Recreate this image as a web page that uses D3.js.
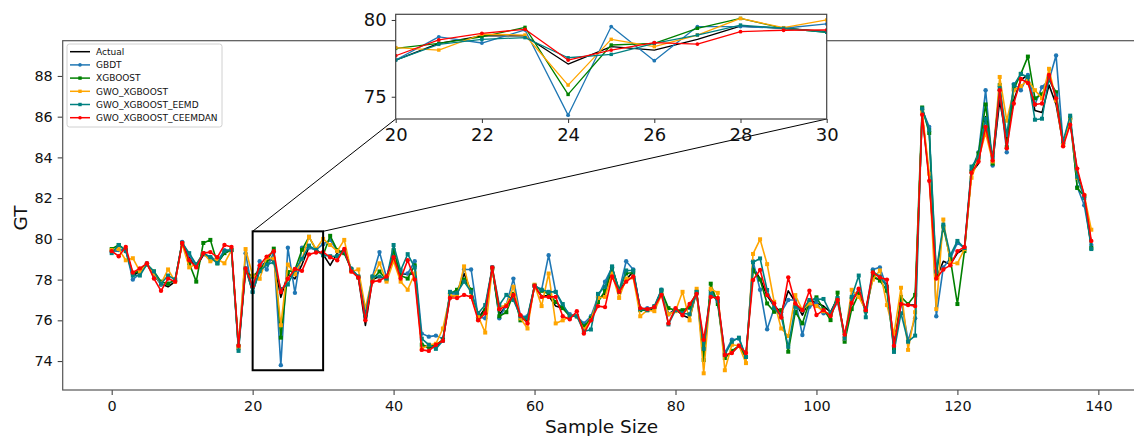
<!DOCTYPE html>
<html>
<head>
<meta charset="utf-8">
<script src="https://cdn.jsdelivr.net/npm/d3@7"></script>
<style>
  body { margin: 0; background: #fff; }
  text { font-family: 'DejaVu Sans', sans-serif; fill: #111; }
</style>
</head>
<body>
<div id="chart"></div>
<script>
// values
var actual = [
  79.45, 79.4, 79.5, 78.2, 78.4, 78.75, 78.2, 77.8, 77.65, 77.9,
  79.8, 79.1, 78.6, 79.2, 79.15, 78.85, 79.3, 79.45, 74.6, 78.6,
  77.39, 78.48, 78.96, 78.96, 77.13, 78.26, 78.04, 78.74, 79.6, 79.46,
  79.24, 78.7, 79.3, 79.45, 78.5, 78.1, 75.75, 78.0, 78.15, 78.0,
  79.2, 78.3, 78.25, 78.3, 74.8, 74.65, 74.75, 75.0, 77.15, 77.25,
  78.3, 77.4, 76.1, 76.6, 78.55, 76.3, 76.7, 77.3, 76.15, 75.95,
  77.65, 77.2, 77.2, 76.7, 76.6, 76.25, 76.25, 75.6, 76.05, 77.0,
  77.3, 78.55, 77.4, 78.0, 78.4, 76.55, 76.5, 76.6, 77.45, 76.3,
  76.55, 76.25, 76.1, 77.4, 74.4, 77.5, 76.9, 74.2, 74.4, 74.75,
  74.2, 78.6, 78.05, 77.2, 76.7, 76.4, 77.45, 76.9, 76.26, 77.0,
  76.85, 76.7, 76.4, 77.1, 75.2, 77.0, 77.4, 76.5, 78.1, 78.0,
  77.8, 74.85, 76.8, 76.75, 76.75, 86.1, 83.0, 78.05, 78.9, 78.75,
  79.3, 79.5, 83.25, 83.7, 86.0, 83.7, 86.8, 84.8, 86.8, 87.8,
  88.05, 86.3, 86.2, 87.55, 86.6, 84.65, 85.8, 83.3, 82.1, 79.75
]

var gbdt = [
  79.35, 79.45, 79.45, 78.0, 78.3, 78.8, 78.25, 77.75, 77.8, 77.95,
  79.85, 79.2, 78.65, 79.3, 79.1, 78.9, 79.45, 79.45, 74.6, 79.3,
  77.39, 78.9, 78.5, 79.35, 73.8, 79.57, 77.35, 79.57, 79.57, 79.46,
  79.74, 79.95, 79.4, 79.3, 78.55, 78.15, 76.3, 78.15, 79.35, 78.1,
  79.3, 78.3, 78.3, 78.9, 75.35, 75.2, 75.25, 75.1, 77.3, 77.3,
  78.5, 78.5, 76.15, 76.1, 78.6, 76.1, 76.75, 78.05, 76.2, 76.2,
  77.7, 77.5, 79.2, 77.4, 76.7, 76.3, 76.2, 75.85, 76.2, 77.15,
  77.9, 78.6, 77.45, 78.9, 78.5, 76.55, 76.6, 76.6, 77.5, 76.3,
  76.5, 76.4, 76.6, 77.3, 74.85, 77.45, 76.95, 74.4, 75.05, 75.1,
  74.2, 78.9, 77.5, 75.56, 76.59, 76.4, 77.0, 77.0, 75.28, 76.67,
  76.85, 76.35, 76.3, 76.9, 75.2, 77.1, 77.5, 76.45, 78.5, 78.6,
  77.6, 74.7, 77.0, 75.0, 76.1, 86.35, 85.5, 76.2, 78.6, 79.05,
  79.8, 79.55, 83.4, 84.25, 87.3, 83.6, 87.3, 84.25, 87.6, 87.3,
  88.05, 86.6, 87.45, 87.8, 89.0, 84.7, 85.9, 82.55, 81.65, 79.7
]

var xgboost = [
  79.5, 79.7, 79.45, 78.3, 78.45, 78.75, 78.4, 77.9, 77.8, 78.0,
  79.8, 78.8, 77.9, 79.8, 79.95, 78.8, 79.3, 79.45, 74.75, 78.4,
  78.15, 78.48, 78.9, 79.52, 75.15, 78.37, 78.48, 79.46, 80.1, 79.46,
  79.2, 80.15, 79.45, 79.3, 78.5, 78.1, 76.3, 78.0, 78.4, 78.0,
  79.45, 78.2, 78.05, 78.7, 74.8, 74.7, 74.8, 75.05, 77.3, 77.5,
  78.0, 77.5, 76.05, 76.5, 78.55, 76.2, 76.4, 77.3, 76.0, 76.1,
  77.7, 77.45, 77.3, 76.9, 76.6, 76.2, 76.2, 75.7, 76.1, 76.9,
  77.45, 78.6, 77.5, 78.3, 78.35, 76.5, 76.5, 76.65, 77.45, 76.6,
  76.5, 76.5, 76.65, 77.4, 74.05, 77.8, 76.8, 74.15, 74.5, 74.75,
  74.2, 78.45, 78.0, 76.83, 76.42, 76.5, 74.46, 76.42, 75.85, 76.9,
  77.13, 76.55, 76.01, 77.36, 74.95, 76.55, 77.3, 76.45, 78.2, 77.95,
  77.45, 74.6, 77.15, 76.8, 77.25, 86.45, 85.2, 78.2, 80.6, 79.0,
  76.8, 79.4, 83.3, 84.2, 86.6, 83.7, 87.55, 84.5, 87.35, 88.1,
  88.95, 86.9, 87.1, 87.8, 87.2, 84.7, 85.95, 82.5, 82.1, 79.55
]

var gwoXgboost = [
  79.45, 79.5, 78.95, 79.05, 78.4, 78.75, 78.3, 77.8, 78.5, 77.9,
  79.75, 78.6, 78.75, 79.3, 78.9, 79.0, 78.8, 79.45, 74.65, 79.5,
  78.2, 78.04, 79.07, 79.02, 75.76, 78.74, 78.26, 79.02, 80.1, 79.5,
  80.0, 79.7, 79.4, 79.95, 78.4, 78.5, 76.6, 78.1, 78.8, 77.9,
  78.9, 77.9, 77.5, 78.3, 74.6, 74.8, 74.85, 75.6, 77.2, 77.2,
  78.65, 77.15, 76.2, 75.4, 78.55, 76.65, 76.75, 77.65, 76.1, 75.6,
  77.75, 76.7, 78.3, 75.85, 76.0, 76.2, 76.2, 75.55, 76.0, 77.1,
  77.15, 78.3, 77.1, 78.05, 78.1, 76.2, 76.5, 76.45, 77.25, 76.3,
  76.45, 77.4, 76.0, 77.55, 73.4, 77.55, 77.35, 73.55, 74.8, 74.75,
  73.9, 79.26, 79.98, 78.76, 76.91, 75.6, 75.23, 77.24, 76.5, 76.83,
  76.7, 76.45, 76.3, 77.0, 75.1, 77.5, 77.15, 76.5, 78.0, 78.45,
  76.75, 75.35, 77.6, 74.55, 76.4, 86.25, 83.2, 76.55, 80.95, 78.8,
  78.8, 79.5, 83.0, 83.95, 85.2, 83.8, 87.95, 85.8, 87.3, 87.5,
  87.8, 87.3, 86.9, 88.35, 86.8, 84.6, 85.85, 83.0, 82.15, 80.45
]

var gwoXgboostEemd = [
  79.3, 79.7, 79.4, 78.2, 78.2, 78.75, 78.4, 77.8, 78.2, 78.0,
  79.8, 79.3, 78.75, 79.3, 79.1, 78.8, 79.4, 79.45, 74.5, 78.55,
  77.39, 78.41, 78.74, 78.85, 77.54, 77.76, 78.48, 79.02, 79.67, 79.46,
  79.2, 79.15, 79.15, 79.4, 78.5, 78.15, 76.25, 78.15, 78.15, 78.05,
  79.7, 78.45, 79.25, 78.6, 75.1, 74.8, 74.6, 75.0, 77.4, 77.35,
  77.9, 77.4, 76.35, 76.75, 78.6, 76.75, 77.25, 77.0, 76.2, 76.1,
  77.7, 77.5, 77.4, 77.4, 76.8, 76.2, 76.2, 75.45, 75.55, 77.3,
  77.65, 78.65, 77.4, 78.45, 78.45, 76.55, 76.5, 76.7, 77.5, 75.8,
  76.5, 76.35, 76.3, 77.4, 74.6, 77.3, 76.95, 74.3, 74.95, 75.15,
  74.2, 78.85, 79.04, 77.49, 76.6, 76.2, 74.7, 76.67, 76.5, 77.0,
  77.03, 77.05, 76.35, 77.1, 75.1, 77.15, 78.2, 76.15, 78.4, 78.15,
  77.65, 74.45, 76.35, 74.95, 75.25, 86.4, 85.35, 78.4, 80.7, 79.2,
  79.9, 79.55, 83.55, 84.0, 85.9, 84.0, 87.4, 85.1, 87.55, 88.1,
  87.95, 85.85, 85.9, 87.9, 87.05, 84.8, 86.05, 83.05, 82.0, 79.5
]

var gwoXgboostCeemdan = [
  79.4, 79.15, 79.6, 78.35, 78.55, 78.8, 78.05, 77.45, 78.05, 77.9,
  79.8, 78.95, 78.6, 79.3, 79.35, 79.1, 79.7, 79.6, 74.75, 78.55,
  77.67, 78.7, 79.13, 79.39, 77.39, 78.04, 78.52, 78.43, 79.24, 79.33,
  79.35, 79.1, 78.95, 79.5, 78.4, 78.1, 76.0, 77.9, 77.95, 78.15,
  79.1, 78.05, 78.95, 78.0, 74.55, 74.5, 74.8, 75.0, 77.1, 77.1,
  77.25, 77.15, 76.0, 76.35, 78.6, 76.55, 76.7, 77.25, 76.25, 75.85,
  77.7, 77.15, 77.15, 77.15, 76.2, 76.05, 76.45, 75.35, 76.0, 76.7,
  76.65, 78.15, 77.4, 77.9, 78.15, 76.6, 76.55, 76.65, 77.25, 75.85,
  76.6, 76.25, 76.8, 77.3, 75.05, 77.15, 77.1, 74.3, 74.4, 74.75,
  74.4, 77.98, 78.47, 77.24, 76.83, 76.14, 78.11, 76.83, 76.5, 77.45,
  76.26, 76.5, 76.21, 77.0, 75.3, 76.85, 77.55, 76.5, 78.35, 78.1,
  78.0, 74.75, 76.8, 76.75, 76.7, 86.1, 82.85, 78.05, 78.5, 78.7,
  79.4, 79.6, 83.25, 83.8, 85.5, 83.85, 87.3, 84.45, 86.65, 87.85,
  87.65, 86.6, 86.65, 88.05, 86.9, 84.55, 85.6, 83.45, 82.15, 79.9
]

var seriesNames = ['Actual', 'GBDT', 'XGBOOST', 'GWO_XGBOOST', 'GWO_XGBOOST_EEMD', 'GWO_XGBOOST_CEEMDAN']
var seriesColors = ['#000000', '#1f77b4', '#008000', '#ffa500', '#008080', '#ff0000']
var seriesMarkers = ['none', 'circle', 'square', 'square', 'square', 'circle']
var seriesValues = [actual, gbdt, xgboost, gwoXgboost, gwoXgboostEemd, gwoXgboostCeemdan]

var xTicks = [0, 20, 40, 60, 80, 100, 120, 140]
var yTicks = [74, 76, 78, 80, 82, 84, 86, 88]
var insetXTicks = [20, 22, 24, 26, 28, 30]
var insetYTicks = [75, 80]
var zoomX = [20, 30]
var zoomY = [73.55, 80.37]

var series = seriesNames.map(function(name, k) {
  return {
    name: name,
    color: seriesColors[k],
    marker: seriesMarkers[k],
    points: seriesValues[k].map(function(v, i) { return [i, v] })
  }
})

var width = 1134
var height = 436
var plot = { left: 62.7, top: 40.7, right: 1140.3, bottom: 390 }

var svg = d3
  .select('#chart')
  .append('svg')
  .attr('width', width)
  .attr('height', height)

var x = d3.scaleLinear().domain([-6.95, 145.95]).range([plot.left, plot.right])
var y = d3.scaleLinear().domain([72.58, 89.73]).range([plot.bottom, plot.top])

// main axes
var xAxis = d3.axisBottom(x).tickValues(xTicks).tickFormat(d3.format('d')).tickSize(5).tickPadding(6)
var yAxis = d3.axisLeft(y).tickValues(yTicks).tickFormat(d3.format('d')).tickSize(5).tickPadding(5)

svg.append('g')
  .attr('transform', 'translate(0,' + plot.bottom + ')')
  .call(xAxis)
  .call(styleAxis, 14.4)

svg.append('g')
  .attr('transform', 'translate(' + plot.left + ',0)')
  .call(yAxis)
  .call(styleAxis, 14.4)

function styleAxis(g, size) {
  g.select('.domain').remove()
  g.selectAll('.tick line').attr('stroke', '#333').attr('stroke-width', 1)
  g.selectAll('.tick text')
    .attr('font-size', size)
    .attr('fill', '#111')
    .attr('font-family', 'DejaVu Sans, sans-serif')
}

// spines (right spine falls outside the picture)
svg.append('rect')
  .attr('x', plot.left)
  .attr('y', plot.top)
  .attr('width', plot.right - plot.left)
  .attr('height', plot.bottom - plot.top)
  .attr('fill', 'none')
  .attr('stroke', '#555')
  .attr('stroke-width', 1.2)

svg.append('text')
  .attr('x', (plot.left + plot.right) / 2)
  .attr('y', 432.5)
  .attr('text-anchor', 'middle')
  .attr('font-size', 18.5)
  .text('Sample Size')

svg.append('text')
  .attr('transform', 'translate(26.5,' + 218 + ') rotate(-90)')
  .attr('text-anchor', 'middle')
  .attr('font-size', 18.5)
  .text('GT')

function drawSeries(g, xs, ys, lw, circleR, squareS) {
  var line = d3.line()
    .x(function(d) { return xs(d[0]) })
    .y(function(d) { return ys(d[1]) })

  series.forEach(function(s) {
    g.append('path')
      .datum(s.points)
      .attr('d', line)
      .attr('fill', 'none')
      .attr('stroke', s.color)
      .attr('stroke-width', lw)
      .attr('stroke-linejoin', 'round')

    if (s.marker === 'circle') {
      g.selectAll(null)
        .data(s.points)
        .enter()
        .append('circle')
        .attr('cx', function(d) { return xs(d[0]) })
        .attr('cy', function(d) { return ys(d[1]) })
        .attr('r', circleR)
        .attr('fill', s.color)
    } else if (s.marker === 'square') {
      g.selectAll(null)
        .data(s.points)
        .enter()
        .append('rect')
        .attr('x', function(d) { return xs(d[0]) - squareS / 2 })
        .attr('y', function(d) { return ys(d[1]) - squareS / 2 })
        .attr('width', squareS)
        .attr('height', squareS)
        .attr('fill', s.color)
    }
  })
}

svg.append('clipPath')
  .attr('id', 'main-clip')
  .append('rect')
  .attr('x', plot.left)
  .attr('y', plot.top)
  .attr('width', plot.right - plot.left)
  .attr('height', plot.bottom - plot.top)

var mainG = svg.append('g').attr('clip-path', 'url(#main-clip)')
drawSeries(mainG, x, y, 1.6, 2.2, 4)

// inset box
var inset = { left: 395.7, top: 14.3, right: 826.7, bottom: 119 }
var ix = d3.scaleLinear().domain(zoomX).range([inset.left, inset.right])
var iy = d3.scaleLinear().domain(zoomY).range([inset.bottom, inset.top])

// rectangle marking the zoomed region, and the connector lines
svg.append('rect')
  .attr('x', x(zoomX[0]))
  .attr('y', y(zoomY[1]))
  .attr('width', x(zoomX[1]) - x(zoomX[0]))
  .attr('height', y(zoomY[0]) - y(zoomY[1]))
  .attr('fill', 'none')
  .attr('stroke', '#000')
  .attr('stroke-width', 2)

svg.append('line')
  .attr('x1', x(zoomX[0])).attr('y1', y(zoomY[1]))
  .attr('x2', inset.left).attr('y2', inset.bottom)
  .attr('stroke', '#000').attr('stroke-width', 1)

svg.append('line')
  .attr('x1', x(zoomX[1])).attr('y1', y(zoomY[1]))
  .attr('x2', inset.right).attr('y2', inset.bottom)
  .attr('stroke', '#000').attr('stroke-width', 1)

svg.append('rect')
  .attr('x', inset.left)
  .attr('y', inset.top)
  .attr('width', inset.right - inset.left)
  .attr('height', inset.bottom - inset.top)
  .attr('fill', '#fff')

svg.append('clipPath')
  .attr('id', 'inset-clip')
  .append('rect')
  .attr('x', inset.left)
  .attr('y', inset.top)
  .attr('width', inset.right - inset.left)
  .attr('height', inset.bottom - inset.top)

var insetG = svg.append('g').attr('clip-path', 'url(#inset-clip)')
drawSeries(insetG, ix, iy, 1.3, 1.9, 3.4)

svg.append('rect')
  .attr('x', inset.left)
  .attr('y', inset.top)
  .attr('width', inset.right - inset.left)
  .attr('height', inset.bottom - inset.top)
  .attr('fill', 'none')
  .attr('stroke', '#444')
  .attr('stroke-width', 1.2)

svg.append('g')
  .attr('transform', 'translate(0,' + inset.bottom + ')')
  .call(d3.axisBottom(ix).tickValues(insetXTicks).tickFormat(d3.format('d')).tickSize(4).tickPadding(5))
  .call(styleAxis, 18)

svg.append('g')
  .attr('transform', 'translate(' + inset.left + ',0)')
  .call(d3.axisLeft(iy).tickValues(insetYTicks).tickFormat(d3.format('d')).tickSize(4).tickPadding(5))
  .call(styleAxis, 18)

// legend
var legend = svg.append('g')
legend.append('rect')
  .attr('x', 67)
  .attr('y', 44)
  .attr('width', 155)
  .attr('height', 83)
  .attr('rx', 2.5)
  .attr('fill', '#fff')
  .attr('fill-opacity', 0.85)
  .attr('stroke', '#d0d0d0')
  .attr('stroke-width', 1)

series.forEach(function(s, k) {
  var ly = 51.7 + k * 13.2
  var row = legend.append('g')
  row.append('line')
    .attr('x1', 70).attr('x2', 90)
    .attr('y1', ly).attr('y2', ly)
    .attr('stroke', s.color)
    .attr('stroke-width', 1.5)
  if (s.marker === 'circle') {
    row.append('circle').attr('cx', 80).attr('cy', ly).attr('r', 1.8).attr('fill', s.color)
  } else if (s.marker === 'square') {
    row.append('rect').attr('x', 78.3).attr('y', ly - 1.7).attr('width', 3.4).attr('height', 3.4).attr('fill', s.color)
  }
  row.append('text')
    .attr('x', 96)
    .attr('y', ly + 3.2)
    .attr('font-size', 9)
    .text(s.name)
})
</script>
</body>
</html>
